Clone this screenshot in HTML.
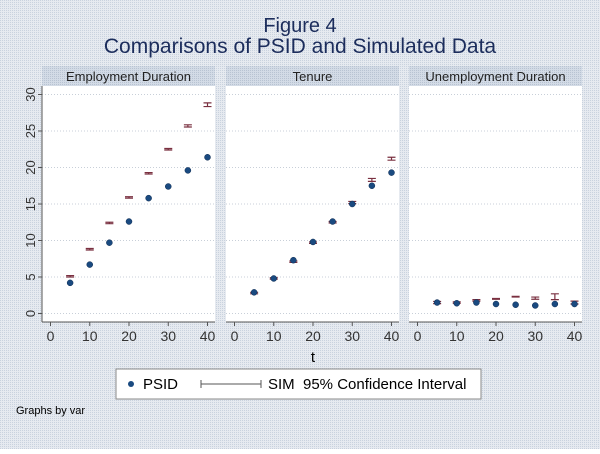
<!DOCTYPE html>
<html><head><meta charset="utf-8"><style>
html,body{margin:0;padding:0}
body{width:600px;height:449px;overflow:hidden;font-family:"Liberation Sans",sans-serif}
</style></head><body>
<svg width="600" height="449" xmlns="http://www.w3.org/2000/svg">
<defs>
<pattern id="dots" width="2" height="2" patternUnits="userSpaceOnUse"><rect width="2" height="2" fill="#e6eaf0"/><rect width="1" height="1" fill="#c9d2de"/></pattern>
<pattern id="hdr" width="2" height="2" patternUnits="userSpaceOnUse"><rect width="2" height="2" fill="#d3dbe6"/><rect width="1" height="1" fill="#b8c3d2"/></pattern>
</defs>
<rect width="600" height="449" fill="url(#dots)"/>
<text x="300" y="32" text-anchor="middle" font-size="20" fill="#1c2d5c">Figure 4</text>
<text x="300" y="53" text-anchor="middle" font-size="21" fill="#1c2d5c">Comparisons of PSID and Simulated Data</text>
<g id="panels"></g>
<text x="313" y="362" text-anchor="middle" font-size="15" fill="#000">t</text>
<g>
<rect x="116" y="369" width="365" height="30" fill="#fff" stroke="#888"/>
<circle cx="131" cy="384" r="3" fill="#1a4a80"/>
<text x="143" y="389" font-size="15">PSID</text>
<path d="M201 380v8M201 384h60M261 380v8" stroke="#555" fill="none"/>
<text x="268" y="389" font-size="15" xml:space="preserve">SIM  95% Confidence Interval</text>
</g>
<text x="16" y="414" font-size="11">Graphs by var</text>
</svg>
<script>
const ts=[5,10,15,20,25,30,35,40];
const panelTitles=["Employment Duration","Tenure","Unemployment Duration"];
const psidEmp=[4.2,6.7,9.7,12.6,15.8,17.4,19.6,21.4];
const simEmp=[5.1,8.8,12.4,15.9,19.2,22.5,25.7,28.6];
const simEmpHalf=[0.1,0.1,0.1,0.1,0.1,0.1,0.15,0.25];
const psidTen=[2.9,4.8,7.3,9.8,12.6,15.0,17.5,19.3];
const simTen=[2.8,4.8,7.1,9.7,12.5,15.2,18.3,21.2];
const simTenHalf=[0.1,0.1,0.1,0.1,0.1,0.15,0.2,0.2];
const psidUn=[1.5,1.4,1.5,1.3,1.2,1.1,1.3,1.3];
const simUn=[1.5,1.5,1.8,2.0,2.3,2.1,2.3,1.5];
const simUnHalf=[0.15,0.1,0.1,0.05,0.05,0.15,0.4,0.2];
const yTicks=[0,5,10,15,20,25,30];
const xTicks=[0,10,20,30,40];
const psid=[psidEmp,psidTen,psidUn],sim=[simEmp,simTen,simUn],half=[simEmpHalf,simTenHalf,simUnHalf];
const NS="http://www.w3.org/2000/svg";
const g=document.getElementById('panels');
function mk(t,a,p){const e=document.createElementNS(NS,t);for(const k in a)e.setAttribute(k,a[k]);(p||g).appendChild(e);return e;}
const px=[42,226,409],pw=173;
const yS=v=>313.5-v*(219/30);
for(let p=0;p<3;p++){
  const x0=px[p];const xS=t=>x0+8.5+t*(157/40);
  const pg=mk('g',{});
  
  
  mk('rect',{x:x0,y:66,width:pw,height:20,fill:'url(#hdr)'},pg);
  const ht=mk('text',{x:x0+pw/2,y:81,'text-anchor':'middle','font-size':13,fill:'#222'},pg);ht.textContent=panelTitles[p];
  
  
  mk('rect',{x:x0,y:86,width:pw,height:236,fill:'#fff'},pg);
  yTicks.forEach(v=>{mk('line',{x1:x0,x2:x0+pw,y1:yS(v),y2:yS(v),stroke:'#c8cfd8','stroke-dasharray':'1 2'},pg);
    if(p==0){mk('line',{x1:x0-4,x2:x0,y1:yS(v),y2:yS(v),stroke:'#555'},pg);
      const tl=mk('text',{x:35,y:yS(v),'font-size':13,fill:'#333','text-anchor':'middle',transform:`rotate(-90 35 ${yS(v)})`},pg);tl.textContent=v;
      
      }});
  if(p==0)mk('line',{x1:x0,x2:x0,y1:86,y2:322,stroke:'#555'},pg);
  mk('line',{x1:x0,x2:x0+pw,y1:322,y2:322,stroke:'#555'},pg);
  xTicks.forEach(t=>{mk('line',{x1:xS(t),x2:xS(t),y1:322,y2:326,stroke:'#555'},pg);
    const tl=mk('text',{x:xS(t),y:341,'font-size':14,fill:'#333','text-anchor':'middle'},pg);tl.textContent=t;
    
    });
  ts.forEach((t,i)=>{
    const x=xS(t),lo=yS(sim[p][i]-half[p][i]),hi=yS(sim[p][i]+half[p][i]);
    const ci=mk('path',{d:`M${x-4} ${hi}h8M${x} ${hi}V${lo}M${x-4} ${lo}h8`,stroke:'#7a3040','stroke-width':1.2,fill:'none'},pg);
    
    
    const c=mk('circle',{cx:x,cy:yS(psid[p][i]),r:3,fill:'#1a4a80',stroke:'#0d2a50','stroke-width':0.5},pg);
    
    
  });
}
</script>
</body></html>
